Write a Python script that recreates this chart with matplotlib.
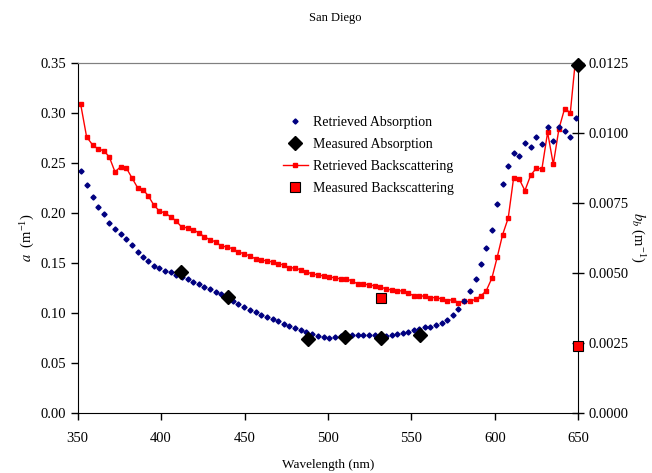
import matplotlib
matplotlib.use("Agg")
import matplotlib.pyplot as plt

plt.rcParams['font.family'] = ['Liberation Serif', 'DejaVu Serif']
plt.rcParams['mathtext.fontset'] = 'stix'

# wavelength grid (nm) shared by both retrieved series
wavelength = [351.8, 355.4, 359.0, 362.2, 365.8, 369.0, 372.4, 375.8, 379.2, 382.6,
              386.0, 389.4, 392.4, 395.6, 399.0, 402.4, 405.8, 409.0, 412.3, 416.0,
              419.4, 422.6, 426.0, 429.4, 432.8, 436.0, 439.6, 443.0, 446.4, 449.8,
              453.2, 456.6, 460.0, 463.4, 466.8, 470.0, 473.4, 476.8, 480.2, 483.6,
              487.0, 490.6, 494.0, 497.4, 500.8, 504.2, 507.6, 511.0, 514.4, 517.8,
              521.2, 524.6, 528.0, 531.4, 534.8, 538.2, 541.6, 544.8, 548.0, 551.4,
              554.8, 558.0, 561.4, 564.8, 568.2, 571.4, 574.8, 578.2, 581.6, 585.0,
              588.4, 591.6, 594.8, 598.2, 601.4, 604.6, 608.0, 611.2, 614.6, 618.0,
              621.4, 624.8, 628.2, 631.6, 635.0, 638.4, 641.8, 645.2, 648.6]

# retrieved absorption a (1/m)
retrieved_abs = [0.242, 0.228, 0.216, 0.206, 0.199, 0.190, 0.184, 0.179, 0.174, 0.168,
                 0.161, 0.156, 0.152, 0.147, 0.145, 0.142, 0.141, 0.138, 0.136, 0.134,
                 0.131, 0.129, 0.126, 0.124, 0.121, 0.119, 0.116, 0.112, 0.109, 0.106,
                 0.103, 0.101, 0.098, 0.096, 0.094, 0.092, 0.089, 0.087, 0.085, 0.083,
                 0.081, 0.079, 0.077, 0.076, 0.075, 0.076, 0.077, 0.077, 0.078, 0.078,
                 0.078, 0.078, 0.078, 0.077, 0.077, 0.078, 0.0785, 0.080, 0.081, 0.083,
                 0.084, 0.086, 0.086, 0.088, 0.090, 0.093, 0.098, 0.104, 0.112, 0.122,
                 0.134, 0.149, 0.165, 0.183, 0.209, 0.229, 0.247, 0.260, 0.257, 0.270,
                 0.266, 0.276, 0.269, 0.286, 0.272, 0.286, 0.282, 0.276, 0.295]

# retrieved backscattering bb (1/m)
retrieved_bb = [0.01104, 0.00986, 0.00957, 0.00943, 0.00936, 0.00914, 0.00861, 0.00879, 0.00875, 0.00839,
                0.00804, 0.00796, 0.00775, 0.00743, 0.00721, 0.00714, 0.00700, 0.00686, 0.00664, 0.00661,
                0.00654, 0.00643, 0.00629, 0.00618, 0.00611, 0.00596, 0.00593, 0.00586, 0.00575, 0.00568,
                0.00561, 0.00550, 0.00546, 0.00543, 0.00539, 0.00532, 0.00529, 0.00518, 0.00518, 0.00511,
                0.00504, 0.00496, 0.00493, 0.00489, 0.00486, 0.00482, 0.00479, 0.00479, 0.00471, 0.00461,
                0.00461, 0.00457, 0.00454, 0.00450, 0.00443, 0.00439, 0.00436, 0.00436, 0.00429, 0.00418,
                0.00418, 0.00417, 0.00412, 0.00412, 0.00407, 0.00401, 0.00405, 0.00394, 0.00398, 0.00398,
                0.00406, 0.00418, 0.00436, 0.00481, 0.00556, 0.00636, 0.00696, 0.00838, 0.00835, 0.00794,
                0.00848, 0.00874, 0.00872, 0.01002, 0.00888, 0.01015, 0.01087, 0.01072, 0.01280]

# measured values
meas_abs_wl = [412, 440, 488, 510, 532, 555, 650]
meas_abs = [0.141, 0.116, 0.074, 0.076, 0.075, 0.078, 0.348]
meas_bb_wl = [532, 650]
meas_bb = [0.00411, 0.00239]

fig = plt.figure(figsize=(6.52, 4.73), dpi=100)
ax = fig.add_axes([0.119, 0.127, 0.768, 0.740])
ax2 = ax.twinx()
ax.set_zorder(ax2.get_zorder() + 1)
ax.patch.set_visible(False)

l_rb, = ax2.plot(wavelength, retrieved_bb, color='red', lw=1, marker='s', ms=2.6,
                 label='Retrieved Backscattering')
l_mb, = ax2.plot(meas_bb_wl, meas_bb, ls='none', marker='s', ms=7, mfc='red', mec='black',
                 mew=0.8, clip_on=False, zorder=5, label='Measured Backscattering')
l_ra, = ax.plot(wavelength, retrieved_abs, ls='none', marker='D', ms=2.6, color='#000080',
                label='Retrieved Absorption')
l_ma, = ax.plot(meas_abs_wl, meas_abs, ls='none', marker='D', ms=7, color='black',
                clip_on=False, zorder=5, label='Measured Absorption')

ax.set_xlim(350, 650)
ax.set_ylim(0, 0.35)
ax2.set_ylim(0, 0.0125)
ax.set_xticks(range(350, 651, 50))
ax.set_yticks([i * 0.05 for i in range(8)])
ax.set_yticklabels(['%.2f' % (i * 0.05) for i in range(8)])
ax2.set_yticks([i * 0.0025 for i in range(6)])
ax2.set_yticklabels(['%.4f' % (i * 0.0025) for i in range(6)])

ax.tick_params(axis='both', direction='out', length=5, width=1, labelsize=10.5)
ax.tick_params(axis='x', pad=9)
ax2.tick_params(axis='y', direction='inout', length=8, width=1, labelsize=10.5)

for a_ in (ax, ax2):
    a_.spines['top'].set_color('gray')
    a_.spines['top'].set_linewidth(0.8)
ax.spines['right'].set_visible(False)
ax2.spines['left'].set_visible(False)
ax2.spines['bottom'].set_visible(False)

ax.set_xlabel('Wavelength (nm)', fontsize=9.5, labelpad=10)
ax.set_ylabel(r'$a$  (m$^{\mathregular{-1}}$)', fontsize=10.5, labelpad=3)
ax2.set_ylabel(r'$b_b$ (m$^{\mathregular{-1}}$)', fontsize=10.5, rotation=270, labelpad=14)

fig.text(0.514, 0.962, 'San Diego', ha='center', va='center', fontsize=9)

ax.legend(handles=[l_ra, l_ma, l_rb, l_mb], loc='upper left', bbox_to_anchor=(0.385, 0.885),
          frameon=False, fontsize=10, numpoints=1, handlelength=1.8, labelspacing=0.65,
          handletextpad=0.4)

fig.savefig('out.png', dpi=100)
